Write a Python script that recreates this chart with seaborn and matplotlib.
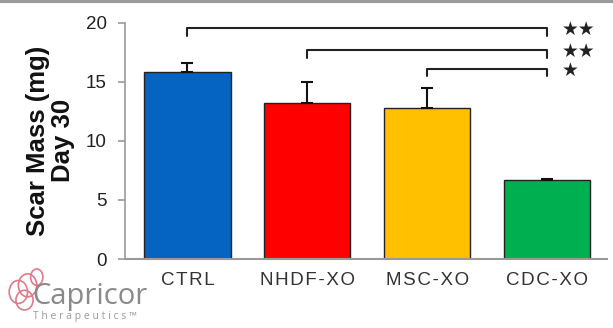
import numpy as np
import pandas as pd
import matplotlib
matplotlib.use("Agg")
import matplotlib.pyplot as plt
from matplotlib.patches import Ellipse
import seaborn as sns

# data
groups = ["CTRL", "NHDF-XO", "MSC-XO", "CDC-XO"]
scar_mass = [15.8, 13.2, 12.8, 6.65]
sem = [0.8, 1.8, 1.7, 0.15]
bar_colors = ["#0563C1", "#FF0000", "#FFC000", "#00B050"]

# significance brackets: (from group, to group, height, label)
sig_from = [0, 1, 2]
sig_to = [3, 3, 3]
sig_height = [19.55, 17.7, 16.1]
sig_label = ["**", "**", "*"]

df = pd.DataFrame({"group": groups, "mass": scar_mass})

sns.set_style("white")
plt.rcParams["font.family"] = ["Liberation Sans", "DejaVu Sans"]

fig = plt.figure(figsize=(6.13, 3.28), dpi=100)
ax = fig.add_axes([0.204, 0.21, 0.786, 0.721])

sns.barplot(data=df, x="group", y="mass", hue="group", palette=bar_colors,
            width=0.72, edgecolor="#222222", linewidth=1.0, legend=False,
            errorbar=None, ax=ax, saturation=1)
ax.errorbar(range(len(groups)), scar_mass, yerr=[np.zeros(len(sem)), sem],
            fmt="none", ecolor="#111111", elinewidth=1.5, capsize=4.5, capthick=1.5)

# brackets
for a, b, h, lab in zip(sig_from, sig_to, sig_height, sig_label):
    ax.plot([a, a, b, b], [h - 0.65, h, h, h - 0.65], color="#222222", lw=1.5,
            clip_on=False, solid_capstyle="round", solid_joinstyle="round")
    ax.text(b + 0.12, h - 0.1, lab.replace("*", "\u2605"), fontsize=13.5,
            ha="left", va="center", color="#222222", family=["DejaVu Sans"])

ax.set_xlim(-0.52, 3.5)
ax.set_ylim(0, 20)
ax.set_yticks([0, 5, 10, 15, 20])
ax.set_xticks(range(len(groups)))
ax.set_xticklabels(["\u200a".join(g) for g in groups])
ax.set_xlabel("")
ax.set_ylabel("Scar Mass (mg)\nDay 30", fontsize=18.5, fontweight="bold",
              linespacing=1.05, color="#111111", labelpad=8)

sns.despine(ax=ax)
ax.spines["left"].set_color("#999999")
ax.spines["bottom"].set_color("#999999")
ax.spines["left"].set_linewidth(1.2)
ax.spines["bottom"].set_linewidth(1.5)
ax.tick_params(axis="y", which="major", direction="out", length=5, width=1.2,
               color="#999999", labelsize=13.5, labelcolor="#222222", left=True, pad=8)
ax.tick_params(axis="x", length=0, labelsize=13.5, labelcolor="#333333", pad=9)

# logo in the corner
fig.text(0.052, 0.095, "Capricor", fontsize=21, color="#8a8a8a", family=["Open Sans"],
         ha="left", va="center")
fig.text(0.054, 0.035, "T h e r a p e u t i c s \u2122", fontsize=7.5, color="#9a9a9a",
         ha="left", va="center", family=["Open Sans"])
for (cx, cy, w, hgt) in [(0.03, 0.11, 0.03, 0.07), (0.045, 0.13, 0.03, 0.07),
                         (0.04, 0.085, 0.028, 0.06), (0.06, 0.155, 0.02, 0.05)]:
    fig.add_artist(Ellipse((cx, cy), w, hgt, fill=False, ec="#e07a8a", lw=1.2,
                           transform=fig.transFigure))

# gray band along the top edge
fig.add_artist(plt.Line2D([0, 1], [0.996, 0.996], color="#9a9a9a", lw=3,
                          transform=fig.transFigure))

fig.savefig("out.png", dpi=100)
